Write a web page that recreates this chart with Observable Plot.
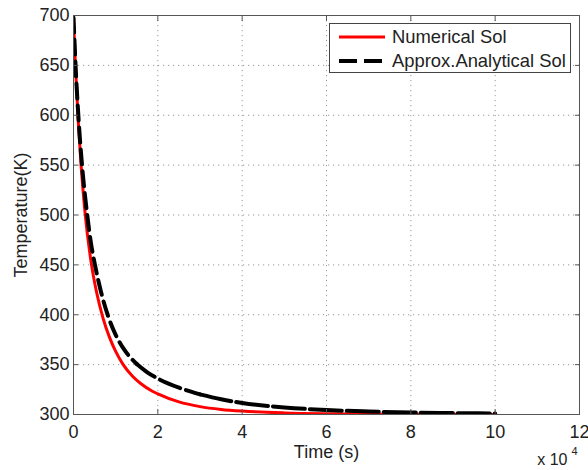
<!DOCTYPE html>
<html>
<head>
<meta charset="utf-8">
<script src="https://cdn.jsdelivr.net/npm/d3@7"></script>
<script src="https://cdn.jsdelivr.net/npm/@observablehq/plot@0.6"></script>
<style>
  html, body { margin: 0; padding: 0; background: #fff; }
  #wrap { position: relative; width: 588px; height: 470px; font-family: "Liberation Sans", Arial, Helvetica, sans-serif; }
  #legend { position: absolute; left: 329px; top: 23px; }
</style>
</head>
<body>
<div id="wrap"></div>
<script>
// Tick values (x in units of 10^4 s)
const xTicks = [0, 2, 4, 6, 8, 10, 12];
const yTicks = [300, 350, 400, 450, 500, 550, 600, 650, 700];

// Numerical solution (red)
const timeNum = [0, 0.02, 0.045, 0.11, 0.18, 0.27, 0.42, 0.55, 0.7, 0.85, 1.0, 1.17, 1.4, 1.6, 1.87, 2.0, 2.5, 3.0, 3.5, 4.0, 5.0, 6.0, 7.0, 8.0, 9.0, 10.0];
const tempNum = [698, 676, 650.5, 596, 549.5, 503.8, 452, 422, 396.7, 377.8, 363.2, 350.5, 338.3, 330.8, 323.3, 320.6, 312.6, 307.9, 305.1, 303.4, 301.6, 300.8, 300.45, 300.25, 300.15, 300.1];

// Approximate analytical solution (black dashed)
const timeAna = [0, 0.02, 0.05, 0.1, 0.15, 0.21, 0.32, 0.41, 0.51, 0.65, 0.81, 1.0, 1.2, 1.5, 1.75, 2.0, 2.5, 3.0, 3.5, 4.0, 5.0, 6.0, 7.0, 8.0, 9.0, 10.0];
const tempAna = [698, 677.8, 649, 609.9, 577.6, 546.2, 502, 473, 449.8, 423.4, 400, 379.9, 365.2, 350.6, 342.3, 336, 326.9, 320.2, 315.3, 311.6, 307.1, 304.5, 303, 302, 301.4, 301];

const numData = timeNum.map((t, i) => ({t, T: tempNum[i]}));
const anaData = timeAna.map((t, i) => ({t, T: tempAna[i]}));
const anaA = anaData.filter(d => d.t <= 1.5);
const anaB = anaData.filter(d => d.t >= 1.5 && d.t <= 3.0);
const anaC = anaData.filter(d => d.t >= 3.0);

const FONT = '"Liberation Sans", Arial, Helvetica, sans-serif';
const axisColor = "#555";
const gridStyle = {stroke: "#999", strokeOpacity: 1, strokeWidth: 1, strokeDasharray: "1.2,3.8"};
const blackStyle = {x: "t", y: "T", stroke: "#000", strokeWidth: 4, curve: "monotone-x", clip: true};

const chart = Plot.plot({
  width: 588,
  height: 470,
  marginLeft: 73,
  marginRight: 9,
  marginTop: 15,
  marginBottom: 56,
  style: {fontFamily: FONT, fontSize: "18px", color: "#222", background: "#fff", overflow: "visible"},
  x: {domain: [0, 12]},
  y: {domain: [300, 700]},
  marks: [
    Plot.gridX(xTicks, gridStyle),
    Plot.gridY(yTicks, gridStyle),
    Plot.line(numData, {x: "t", y: "T", stroke: "#ff0000", strokeWidth: 3, curve: "monotone-x", clip: true}),
    Plot.line(anaA, {...blackStyle, strokeDasharray: "15,7"}),
    Plot.line(anaB, {...blackStyle, strokeDasharray: "22,6"}),
    Plot.line(anaC, {...blackStyle, strokeDasharray: "32,5"}),
    Plot.frame({stroke: axisColor, strokeWidth: 1}),
    Plot.axisX(xTicks, {anchor: "bottom", tickSize: -5, tickPadding: 16, label: null, stroke: axisColor, fill: "#222", fontSize: 18}),
    Plot.axisX(xTicks, {anchor: "top", tickSize: -5, tickFormat: () => "", label: null, stroke: axisColor}),
    Plot.axisY(yTicks, {anchor: "left", tickSize: -5, tickPadding: 9, label: null, stroke: axisColor, fill: "#222", fontSize: 18}),
    Plot.axisY(yTicks, {anchor: "right", tickSize: -5, tickFormat: () => "", label: null, stroke: axisColor}),
    Plot.text(["Time (s)"], {frameAnchor: "bottom", lineAnchor: "middle", textAnchor: "middle", dy: 38, fontSize: 18, fill: "#222"}),
    Plot.text(["Temperature(K)"], {frameAnchor: "left", lineAnchor: "middle", textAnchor: "middle", dx: -52, rotate: -90, fontSize: 18, fill: "#222"}),
    Plot.text(["x 10"], {frameAnchor: "bottom-right", lineAnchor: "middle", textAnchor: "end", dx: -12, dy: 45, fontSize: 16, fill: "#222"}),
    Plot.text(["4"], {frameAnchor: "bottom-right", lineAnchor: "middle", textAnchor: "start", dx: -8, dy: 37, fontSize: 11, fill: "#222"})
  ]
});
const wrap = document.getElementById("wrap");
wrap.appendChild(chart);

// Legend (overlay inside the plot area, top-right)
const legendItems = [
  {label: "Numerical Sol", color: "#ff0000", width: 3, dash: null},
  {label: "Approx.Analytical Sol", color: "#000", width: 4, dash: "18,7"}
];
const lw = 242, lh = 50;
const leg = d3.select(wrap).append("svg")
  .attr("id", "legend").attr("width", lw).attr("height", lh)
  .style("font-family", FONT).style("font-size", "18.4px");
leg.append("rect").attr("x", 0.5).attr("y", 0.5).attr("width", lw - 1).attr("height", lh - 1)
  .attr("fill", "#fff").attr("stroke", "#444");
legendItems.forEach((d, i) => {
  const cy = 14 + i * 24;
  const ln = leg.append("line").attr("x1", 10).attr("x2", 56).attr("y1", cy).attr("y2", cy)
    .attr("stroke", d.color).attr("stroke-width", d.width);
  if (d.dash) ln.attr("stroke-dasharray", d.dash);
  leg.append("text").attr("x", 63).attr("y", cy).attr("dy", "0.35em").attr("fill", "#222").text(d.label);
});
</script>
</body>
</html>
